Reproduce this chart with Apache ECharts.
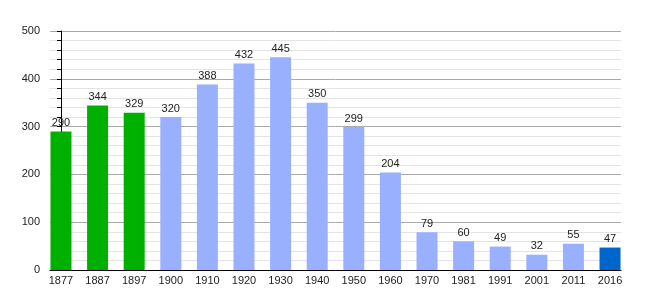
<!DOCTYPE html>
<html><head><meta charset="utf-8">
<script src="https://cdn.jsdelivr.net/npm/echarts@6/dist/echarts.min.js"></script>
<style>html,body{margin:0;padding:0;background:#fff}#c{width:650px;height:300px}</style>
</head><body><div id="c"></div>
<script>
const years = ['1877','1887','1897','1900','1910','1920','1930','1940','1950','1960','1970','1981','1991','2001','2011','2016'];
const population = [290,344,329,320,388,432,445,350,299,204,79,60,49,32,55,47];
const barColors = ['#00b000','#00b000','#00b000','#99b0ff','#99b0ff','#99b0ff','#99b0ff','#99b0ff','#99b0ff','#99b0ff','#99b0ff','#99b0ff','#99b0ff','#99b0ff','#99b0ff','#0066cc'];
const yTicks = [0,100,200,300,400,500];

const chart = echarts.init(document.getElementById('c'), null, {renderer:'canvas'});
const pad = 0.3;
const idx = years.map((_,i)=>i);
chart.setOption({
  animation:false,
  grid:{left:50,right:29,top:31,bottom:30,containLabel:false},
  xAxis:{type:'value',min:-pad,max:years.length-1+pad,
    axisLine:{show:true,lineStyle:{color:'#000',width:1}},
    axisTick:{show:false},splitLine:{show:false},
    axisLabel:{customValues:idx,fontFamily:'Liberation Sans',fontSize:11,color:'#222',margin:5,
      formatter:v=>years[Math.round(v)]}},
  yAxis:{type:'value',min:yTicks[0],max:yTicks[yTicks.length-1],interval:100,
    axisLine:{show:true,lineStyle:{color:'#000',width:1}},
    axisTick:{show:true,length:4,inside:false,lineStyle:{color:'#000'}},
    minorTick:{show:true,splitNumber:5,length:4,lineStyle:{color:'#000'}},
    splitLine:{show:true,lineStyle:{color:'#aaaaaa',width:1}},
    minorSplitLine:{show:true,lineStyle:{color:'#e4e4e4',width:1}},
    axisLabel:{fontFamily:'Liberation Sans',fontSize:11,color:'#222',margin:10}},
  series:[{type:'bar',barWidth:21,
    data:population.map((v,i)=>({value:[i,v],itemStyle:{color:barColors[i]}})),
    label:{show:true,position:'top',distance:3,fontFamily:'Liberation Sans',fontSize:11,color:'#222'}}]
});
</script></body></html>
